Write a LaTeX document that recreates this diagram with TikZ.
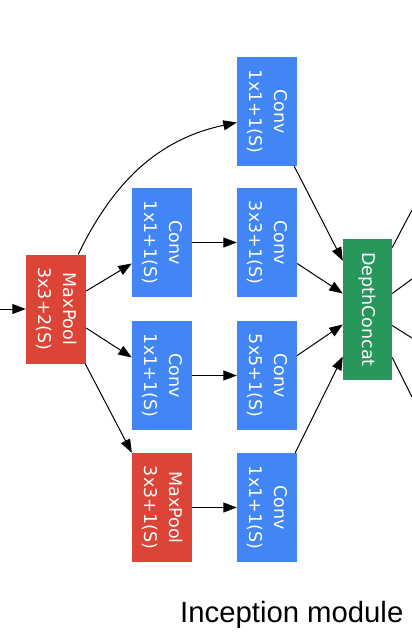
\documentclass[tikz,border=0pt]{standalone}
\usepackage{fontspec}
\usepackage{graphicx}
\setmainfont{DejaVu Sans}
\newfontfamily\titlefont{Liberation Sans}
\usetikzlibrary{arrows.meta}
\definecolor{gred}{HTML}{DB4437}
\definecolor{gblue}{HTML}{4285F4}
\definecolor{ggreen}{HTML}{27975C}
\newcommand\twolines[2]{\rotatebox{-90}{\begin{tabular}{@{}c@{}}#1\\#2\end{tabular}}}
\newcommand\onelinev[1]{\rotatebox{-90}{#1}}
\begin{document}
\begin{tikzpicture}[x=1pt,y=-1pt,
  box/.style={rectangle, inner sep=0pt, minimum width=60pt, minimum height=109pt,
    text=white, font=\fontsize{17.5pt}{25pt}\selectfont},
  redbox/.style={box, fill=gred},
  bluebox/.style={box, fill=gblue},
  greenbox/.style={box, fill=ggreen, minimum width=49pt, minimum height=141pt},
  conn/.style={line width=1pt, draw=black},
  arr/.style={conn, -{Triangle[length=13.5pt,width=10pt]}}
]
\useasboundingbox (0,0) rectangle (412,640);

\node[redbox] (mp) at (56,309) {\twolines{MaxPool}{3x3+2(S)}};
\node[bluebox] (c0) at (267,111.5) {\twolines{Conv}{1x1+1(S)}};
\node[bluebox] (c1) at (162,242.5) {\twolines{Conv}{1x1+1(S)}};
\node[bluebox] (c3) at (267,242.5) {\twolines{Conv}{3x3+1(S)}};
\node[bluebox] (c2) at (162,375.5) {\twolines{Conv}{1x1+1(S)}};
\node[bluebox] (c5) at (267,375.5) {\twolines{Conv}{5x5+1(S)}};
\node[redbox] (mp2) at (162,507.5) {\twolines{MaxPool}{3x3+1(S)}};
\node[bluebox] (c7) at (267,507.5) {\twolines{Conv}{1x1+1(S)}};
\node[greenbox] (dc) at (367.5,309.5) {\onelinev{DepthConcat}};

\node[font=\titlefont\fontsize{29.3pt}{35pt}\selectfont, anchor=base west, inner sep=0pt] (title) at (180,622) {Inception module};

\coordinate (in) at (0,309);
\coordinate (o1) at (412,210);
\coordinate (o2) at (412,279);
\coordinate (o3) at (412,338);
\coordinate (o4) at (412,397);

\draw[arr] (in) -- (mp.west);
\draw[arr] ([xshift=-8pt]mp.north east) to[out=64,in=192] ([yshift=-11pt]c0.west);
\draw[arr] ([yshift=18pt]mp.east) -- ([yshift=-21pt]c1.west);
\draw[arr] ([yshift=-19pt]mp.east) -- ([yshift=18pt]c2.west);
\draw[arr] ([xshift=-1pt]mp.south east) -- (mp2.north west);
\draw[arr] (c1.east) -- (c3.west);
\draw[arr] (c2.east) -- (c5.west);
\draw[arr] (mp2.east) -- (c7.west);
\draw[arr] ([xshift=-3pt]c0.south east) -- ([yshift=-22pt]dc.north west);
\draw[arr] ([yshift=-21pt]c3.east) -- ([yshift=16pt]dc.west);
\draw[arr] ([yshift=20pt]c5.east) -- ([yshift=-15pt]dc.west);
\draw[arr] ([xshift=-2pt]c7.north east) -- ([yshift=-47pt]dc.west);

\draw[conn] ([yshift=62pt]dc.east) -- (o1);
\draw[conn] ([yshift=16pt]dc.east) -- (o2);
\draw[conn] ([yshift=-16pt]dc.east) -- (o3);
\draw[conn] ([yshift=-48pt]dc.east) -- (o4);
\end{tikzpicture}
\end{document}
